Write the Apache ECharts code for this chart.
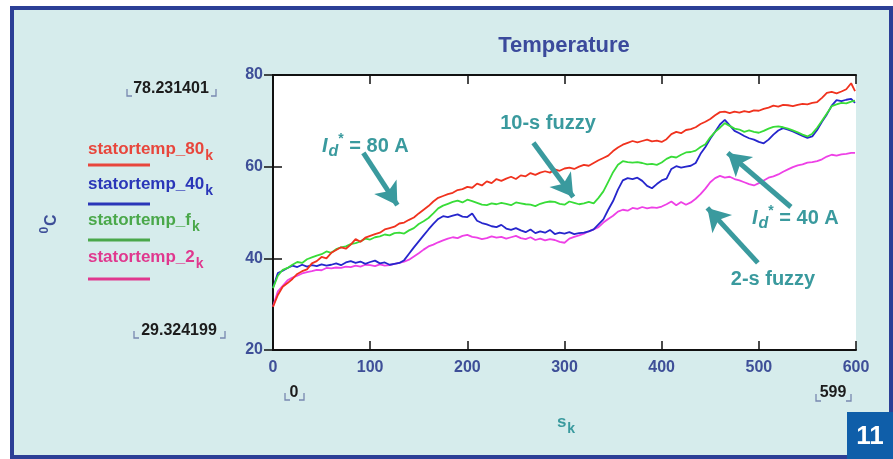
<!DOCTYPE html>
<html>
<head>
<meta charset="utf-8">
<title>Temperature</title>
<script src="https://cdn.jsdelivr.net/npm/echarts@6/dist/echarts.min.js"></script>
<style>
  html, body { margin: 0; padding: 0; background: #fff; }
  #chart { width: 893px; height: 459px; }
</style>
</head>
<body>
<div id="chart"></div>
<script>
// sample index (s_k) and the four stator temperature traces
const sk = [
  0, 5, 10, 15, 20, 25, 30, 35, 40, 45,
  50, 55, 60, 65, 70, 75, 80, 85, 90, 95,
  100, 105, 110, 115, 120, 125, 130, 135, 140, 145,
  150, 155, 160, 165, 170, 175, 180, 185, 190, 195,
  200, 205, 210, 215, 220, 225, 230, 235, 240, 245,
  250, 255, 260, 265, 270, 275, 280, 285, 290, 295,
  300, 305, 310, 315, 320, 325, 330, 335, 340, 345,
  350, 355, 360, 365, 370, 375, 380, 385, 390, 395,
  400, 405, 410, 415, 420, 425, 430, 435, 440, 445,
  450, 455, 460, 465, 470, 475, 480, 485, 490, 495,
  500, 505, 510, 515, 520, 525, 530, 535, 540, 545,
  550, 555, 560, 565, 570, 575, 580, 585, 590, 595,
  599
];

const stator80 = [
  29.4, 32.0, 33.8, 34.6, 35.5, 36.6, 37.2, 37.6, 38.9, 39.4,
  40.3, 40.0, 41.2, 41.8, 42.4, 42.1, 43.0, 44.2, 43.6, 44.5,
  44.9, 45.3, 45.6, 46.3, 46.6, 46.9, 47.6, 47.8, 48.4, 48.9,
  49.8, 50.6, 51.4, 52.4, 53.2, 53.6, 54.0, 54.3, 54.9, 55.1,
  55.6, 55.4, 56.3, 55.9, 56.8, 56.4, 57.3, 56.9, 57.4, 57.8,
  57.3, 58.1, 57.9, 58.6, 58.2, 58.7, 59.0, 58.7, 59.4, 59.1,
  59.6, 59.8, 59.5, 60.0, 60.4, 60.2, 60.8, 61.4, 61.9, 62.4,
  63.4, 64.2, 64.8, 65.2, 65.6, 65.3, 65.6, 65.9, 65.5, 65.7,
  65.4, 66.0, 67.1, 67.6, 67.3, 68.0, 68.2, 68.6, 69.3, 69.8,
  70.4, 71.2, 71.9, 72.0, 71.7, 72.0, 71.8, 72.1, 71.9, 72.3,
  72.2, 72.6, 72.9, 73.3, 73.1, 73.5, 73.4, 73.2, 73.5, 73.7,
  73.6, 73.9, 74.1, 75.0, 76.1, 76.3, 76.0, 76.4, 76.9, 78.2,
  76.5
];

const stator40 = [
  33.6, 36.8, 37.3, 37.9, 38.4, 38.1, 38.6, 38.2, 38.5, 38.3,
  38.7, 38.4, 38.6, 38.9, 38.5, 39.1, 39.4, 39.0, 39.3, 38.8,
  39.2, 39.5, 38.9, 39.1, 38.6, 38.8, 39.0, 39.6, 41.0, 42.4,
  43.7, 45.0, 46.3, 47.5, 48.6, 49.2, 49.0, 49.3, 49.6, 49.1,
  49.0, 49.8, 48.2, 47.7, 47.4, 47.0, 46.8, 47.3, 46.5, 46.2,
  46.6, 46.1, 45.7, 46.3, 45.5, 45.9, 45.6, 46.2, 45.3, 45.6,
  45.4, 45.7, 45.3, 45.5, 45.6, 45.9, 46.3, 47.4, 48.5, 50.6,
  52.5, 55.0, 57.0, 57.5, 57.3, 57.6, 56.9, 55.8, 55.3, 56.2,
  57.0, 57.4, 59.5, 60.1, 59.8, 60.0, 60.2, 60.8, 62.8, 64.3,
  66.1, 67.6, 69.2, 70.2, 69.0, 67.8, 67.3, 66.7, 66.2, 65.9,
  65.4, 65.1, 65.9, 67.0, 67.9, 68.4, 68.1, 67.7, 67.2, 66.7,
  66.3, 66.6, 68.0, 69.8, 71.4, 73.3, 74.5, 74.3, 74.6, 74.8,
  73.9
];

const statorF = [
  33.5, 36.2, 37.5, 37.9, 38.6, 39.2, 39.0, 39.8, 40.2, 40.6,
  40.9, 41.5, 41.2, 42.0, 42.4, 42.6, 43.1, 43.3, 43.7, 44.3,
  44.1, 44.6, 44.8, 45.2, 45.0, 45.5, 45.6, 45.4, 46.1, 46.6,
  47.5, 48.1, 48.8, 49.8, 50.9, 51.5, 51.9, 52.3, 52.6, 52.2,
  52.8, 52.5, 52.1, 51.7, 51.6, 52.0, 51.8, 52.1, 51.9, 51.6,
  52.2, 52.0, 51.8, 51.7, 51.4, 51.9, 52.2, 52.4, 52.3, 51.9,
  51.7, 52.4, 52.1, 51.8, 52.0, 52.3, 52.0, 53.2, 54.6, 56.7,
  58.8, 60.4, 61.2, 61.0, 60.9, 61.0, 60.8, 60.5, 60.6, 60.4,
  60.9, 61.7, 62.2, 62.0, 62.6, 63.1, 63.2, 63.5, 64.3, 64.9,
  66.4, 67.6, 68.5, 69.5, 68.9, 68.3, 68.1, 67.6, 67.9, 67.6,
  67.4, 67.8, 68.3, 68.7, 68.8, 68.6, 68.3, 67.9, 67.5, 67.0,
  66.6, 67.2, 68.5, 70.0, 71.6, 73.2, 73.6, 73.9, 73.8, 74.2,
  74.4
];

const stator2 = [
  29.5, 32.8, 34.0, 35.2, 35.8, 36.2, 36.7, 37.0, 37.2, 37.5,
  37.4, 37.9, 37.8, 38.0, 37.9, 38.2, 38.1, 38.4, 38.2, 38.6,
  38.5, 38.3, 38.7, 38.4, 38.5, 38.8, 39.0, 39.3, 39.7, 40.4,
  41.1, 41.9, 42.6, 43.0, 43.5, 43.9, 44.3, 44.6, 44.4, 44.9,
  45.1, 44.7, 44.5, 44.2, 44.4, 44.8, 44.5, 44.7, 44.3, 44.6,
  44.9, 44.4, 44.2, 44.6, 44.0, 44.3, 43.9, 44.2, 44.0, 43.6,
  43.4, 44.3, 44.7, 45.0, 45.4, 45.9, 46.3, 46.8, 47.8, 48.6,
  49.3, 50.2, 50.6, 50.4, 51.0, 50.8, 51.2, 50.9, 51.1, 51.0,
  51.3, 51.8, 52.4, 51.6, 52.3, 51.7, 52.2, 53.0, 54.0, 55.2,
  56.6, 57.5, 58.0, 57.6, 57.8, 57.3, 57.0, 56.6, 56.2, 55.9,
  56.4, 57.0, 57.6, 57.9, 58.3, 58.9, 59.4, 59.9, 60.3, 60.5,
  60.9, 61.0, 61.2, 61.6, 62.2, 62.6, 62.4, 62.7, 62.8, 63.0,
  63.0
];

const legendNames = ['statortemp_80', 'statortemp_40', 'statortemp_f', 'statortemp_2'];
const legendColors = ['#e8463c', '#2a36b8', '#4aa84a', '#e0388e'];
const lineColors = ['#f0321e', '#2626cc', '#38dc38', '#ee40e6'];

// arrows in data coords: [from, to]
const arrows = [
  [[93, 63.0], [128, 51.6]],
  [[268, 65.2], [309, 53.4]],
  [[533, 51.2], [468, 63.0]],
  [[499, 39.0], [447, 51.0]]
];

const teal = '#3a9a9e';
const axisBlue = '#3e4f98';
const bracketGrey = '#7888b0';
const FONT = 'Liberation Sans';

const chart = echarts.init(document.getElementById('chart'));

const pairs = (ys) => sk.map((s, i) => [s, ys[i]]);

// text with subscript done through rich styles (graphic text wants fill, not color)
const subRich = (size, color) => ({
  m: { fontSize: size, fontWeight: 'bold', fill: color, fontFamily: FONT, verticalAlign: 'top' },
  s: { fontSize: size - 3, fontWeight: 'bold', fill: color, fontFamily: FONT, verticalAlign: 'top', padding: [8, 0, 0, 1] }
});

const idRich = {
  i: { fontSize: 20, fontWeight: 'bold', fontStyle: 'italic', fill: teal, fontFamily: FONT, verticalAlign: 'top', padding: [4, 0, 0, 0] },
  d: { fontSize: 16, fontWeight: 'bold', fontStyle: 'italic', fill: teal, fontFamily: FONT, verticalAlign: 'top', padding: [12, 0, 0, 1] },
  p: { fontSize: 14, fontWeight: 'bold', fill: teal, fontFamily: FONT, verticalAlign: 'top', padding: [0, 0, 0, 0] },
  m: { fontSize: 20, fontWeight: 'bold', fill: teal, fontFamily: FONT, verticalAlign: 'top', padding: [4, 0, 0, 0] }
};

// little corner brackets round the range values
const bracket = (xl, xr, yb) => [
  { type: 'polyline', shape: { points: [[xl, yb - 7], [xl, yb], [xl + 5, yb]] }, style: { stroke: bracketGrey, lineWidth: 1.3, fill: null } },
  { type: 'polyline', shape: { points: [[xr, yb - 7], [xr, yb], [xr - 5, yb]] }, style: { stroke: bracketGrey, lineWidth: 1.3, fill: null } }
];
const rangeText = (x, y, txt) => ({ type: 'text', x: x, y: y,
  style: { text: txt, fill: '#1c1c1c', font: 'bold 16px ' + FONT, align: 'center', verticalAlign: 'middle' } });

const graphics = [
  // panel background + frame
  { type: 'rect', z: -100, shape: { x: 12, y: 8, width: 879, height: 449 },
    style: { fill: '#d6ecec', stroke: '#2c3f96', lineWidth: 4 } },
  // figure number badge
  { type: 'rect', z: 10, shape: { x: 847, y: 412, width: 46, height: 47 }, style: { fill: '#0f5ea9' } },
  { type: 'text', z: 11, x: 870, y: 437, style: { text: '11', fill: '#fff', font: 'bold 26px ' + FONT, align: 'center', verticalAlign: 'middle' } },
  // title
  { type: 'text', x: 564, y: 46, style: { text: 'Temperature', fill: '#3b4a9c', font: 'bold 22px ' + FONT, align: 'center', verticalAlign: 'middle' } },
  // y axis name
  { type: 'text', x: 49, y: 224, rotation: Math.PI / 2,
    style: { text: '{p|0}{m|C}', align: 'center', verticalAlign: 'middle',
      rich: {
        p: { fontSize: 12, fontWeight: 'bold', fill: axisBlue, fontFamily: FONT, verticalAlign: 'top' },
        m: { fontSize: 16, fontWeight: 'bold', fill: axisBlue, fontFamily: FONT, verticalAlign: 'top', padding: [5, 0, 0, 1] }
      } } },
  // x axis name
  { type: 'text', x: 566, y: 425, style: { text: '{m|s}{s|k}', align: 'center', verticalAlign: 'middle', rich: subRich(17, teal) } },
  // range markers
  rangeText(171, 89, '78.231401'),
  ...bracket(127, 216, 96),
  rangeText(179, 331, '29.324199'),
  ...bracket(134, 225, 338),
  rangeText(294, 393, '0'),
  ...bracket(285, 304, 400),
  rangeText(833, 393, '599'),
  ...bracket(816, 851, 401),
  // annotations
  { type: 'text', x: 322, y: 132, style: { text: '{i|I}{d|d}{p|*}{m| = 80 A}', rich: idRich } },
  { type: 'text', x: 548, y: 123, style: { text: '10-s fuzzy', fill: teal, font: 'bold 20px ' + FONT, align: 'center', verticalAlign: 'middle' } },
  { type: 'text', x: 752, y: 204, style: { text: '{i|I}{d|d}{p|*}{m| = 40 A}', rich: idRich } },
  { type: 'text', x: 773, y: 279, style: { text: '2-s fuzzy', fill: teal, font: 'bold 20px ' + FONT, align: 'center', verticalAlign: 'middle' } }
];

// legend on the left: name with subscript k, short line below
const legendY = [151, 186, 222, 259];
const legendLineY = [165, 204, 240, 279];
legendNames.forEach((name, i) => {
  graphics.push({ type: 'text', x: 88, y: legendY[i] - 10,
    style: { text: '{m|' + name + '}{s|k}', rich: subRich(17, legendColors[i]) } });
  graphics.push({ type: 'line', shape: { x1: 88, y1: legendLineY[i], x2: 150, y2: legendLineY[i] },
    style: { stroke: legendColors[i], lineWidth: 3 } });
});

const option = {
  backgroundColor: '#fff',
  animation: false,
  graphic: graphics,
  grid: {
    left: 273, top: 75, right: 37, bottom: 109,
    show: true, backgroundColor: '#fff', borderWidth: 0
  },
  xAxis: [
    {
      type: 'value', min: 0, max: 600, interval: 100,
      axisLine: { lineStyle: { color: '#111', width: 2 } },
      axisTick: { inside: true, length: 9, lineStyle: { color: '#111', width: 1.5 } },
      axisLabel: { color: axisBlue, fontWeight: 'bold', fontSize: 16, fontFamily: FONT, margin: 10 },
      splitLine: { show: false }
    },
    {
      type: 'value', position: 'top', min: 0, max: 600, interval: 100,
      axisLine: { lineStyle: { color: '#111', width: 2 } },
      axisTick: { inside: true, length: 9, lineStyle: { color: '#111', width: 1.5 } },
      axisLabel: { show: false },
      splitLine: { show: false }
    }
  ],
  yAxis: [
    {
      type: 'value', min: 20, max: 80, interval: 20,
      axisLine: { show: true, lineStyle: { color: '#111', width: 2 } },
      axisTick: { show: true, inside: true, length: 9, lineStyle: { color: '#111', width: 1.5 } },
      axisLabel: { color: axisBlue, fontWeight: 'bold', fontSize: 16, fontFamily: FONT, margin: 10 },
      splitLine: { show: false }
    },
    {
      type: 'value', position: 'right', min: 20, max: 80, interval: 20,
      axisLine: { show: true, lineStyle: { color: '#111', width: 2 } },
      axisTick: { show: true, inside: true, length: 9, lineStyle: { color: '#111', width: 1.5 } },
      axisLabel: { show: false },
      splitLine: { show: false }
    }
  ],
  series: [
    { name: 'statortemp_2', type: 'line', data: pairs(stator2), showSymbol: false,
      lineStyle: { color: lineColors[3], width: 1.8 } },
    { name: 'statortemp_40', type: 'line', data: pairs(stator40), showSymbol: false,
      lineStyle: { color: lineColors[1], width: 1.8 } },
    { name: 'statortemp_f', type: 'line', data: pairs(statorF), showSymbol: false,
      lineStyle: { color: lineColors[2], width: 1.8 } },
    { name: 'statortemp_80', type: 'line', data: pairs(stator80), showSymbol: false,
      lineStyle: { color: lineColors[0], width: 1.8 },
      markLine: {
        silent: true,
        symbol: ['none', 'arrow'],
        symbolSize: [20, 22],
        label: { show: false },
        lineStyle: { color: teal, width: 5, type: 'solid' },
        emphasis: { disabled: true },
        data: arrows.map(a => [{ coord: a[0] }, { coord: a[1] }])
      } }
  ]
};

chart.setOption(option);
</script>
</body>
</html>
